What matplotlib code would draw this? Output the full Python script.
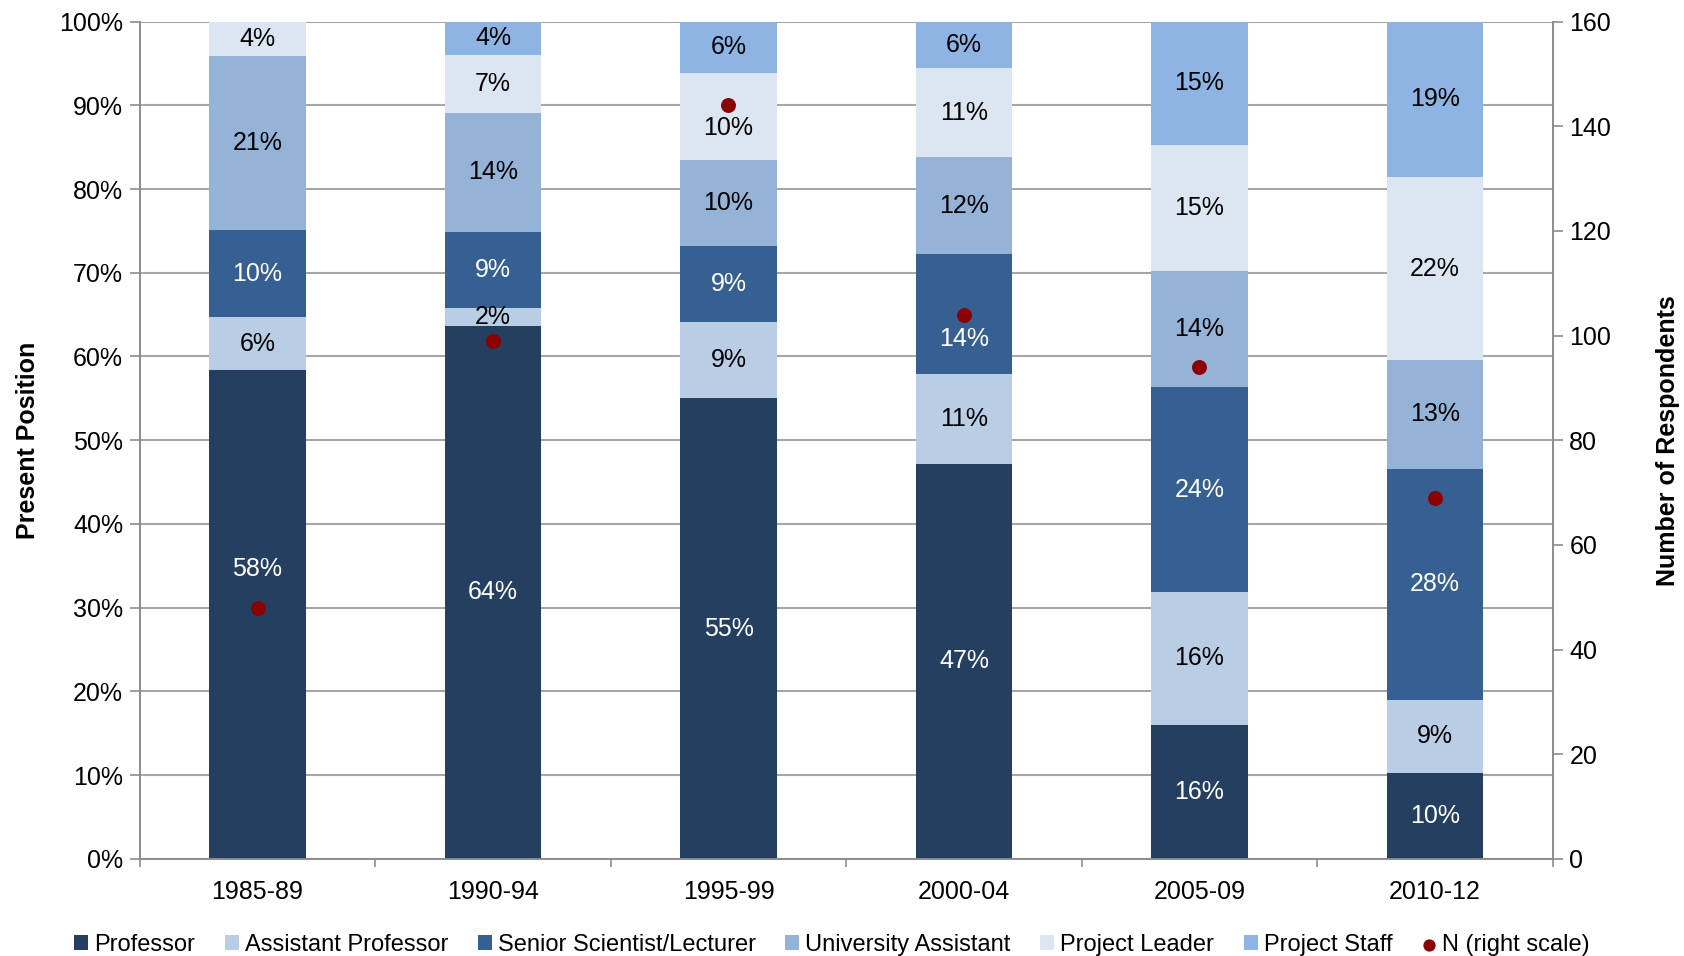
import matplotlib
matplotlib.use('Agg')
import matplotlib.pyplot as plt
import numpy as np

# data (percent of each cohort)
periods = ['1985-89', '1990-94', '1995-99', '2000-04', '2005-09', '2010-12']
professor = [58.4, 63.7, 55.0, 47.2, 16.0, 10.3]
asst_prof = [6.3, 2.1, 9.1, 10.7, 15.9, 8.7]
senior = [10.4, 9.1, 9.1, 14.3, 24.4, 27.6]
univ_asst = [20.8, 14.2, 10.3, 11.6, 13.9, 13.0]
proj_leader = [4.1, 6.9, 10.3, 10.6, 15.1, 21.8]
proj_staff = [0.0, 4.0, 6.2, 5.6, 14.7, 18.6]
n_resp = [48, 99, 144, 104, 94, 69]

series = [
    ('Professor', professor, '#243F60', 'white'),
    ('Assistant Professor', asst_prof, '#B9CDE5', 'black'),
    ('Senior Scientist/Lecturer', senior, '#376092', 'white'),
    ('University Assistant', univ_asst, '#95B3D7', 'black'),
    ('Project Leader', proj_leader, '#DCE6F2', 'black'),
    ('Project Staff', proj_staff, '#8EB4E3', 'black'),
]

# labels moved off the N dots (in % units)
label_nudge = {(0, 'Professor'): 5.4, (2, 'Project Leader'): -1.4,
               (3, 'Senior Scientist/Lecturer'): -3.0}

plt.rcParams['font.family'] = ['Liberation Sans', 'DejaVu Sans']

fig = plt.figure(figsize=(16.84, 9.56), dpi=100)
ax1 = fig.add_axes([0.083, 0.1015, 0.839, 0.876])
ax2 = ax1.twinx()

x = np.arange(len(periods))
width = 0.41
bottom = np.zeros(len(periods))
handles = []
for name, vals, col, tcol in series:
    vals = np.array(vals)
    b = ax1.bar(x, vals, width, bottom=bottom, color=col, label=name, zorder=2)
    handles.append(b)
    for i, v in enumerate(vals):
        if v > 0:
            ypos = bottom[i] + v / 2 + label_nudge.get((i, name), 0)
            ax1.text(x[i], ypos, '{:.0f}%'.format(v), ha='center', va='center',
                     fontsize=18, color=tcol, zorder=3)
    bottom += vals

dots = ax2.scatter(x, n_resp, s=95, color='#8B0000', zorder=4, label='N (right scale)')

ax1.set_xlim(-0.5, len(periods) - 0.5)
ax1.set_ylim(0, 100)
ax2.set_ylim(0, 160)
ax1.set_yticks(np.arange(0, 101, 10))
ax1.set_yticklabels(['{}%'.format(v) for v in range(0, 101, 10)])
ax2.set_yticks(np.arange(0, 161, 20))

ax1.yaxis.grid(True, color='#A6A6A6', linewidth=1.5, zorder=0)
ax1.set_axisbelow(True)

ax1.set_xticks(x)
ax1.set_xticklabels(periods)
ax1.set_xticks(np.arange(-0.5, len(periods), 1), minor=True)
ax1.tick_params(axis='x', which='major', length=0, labelsize=18, pad=15)
ax1.tick_params(axis='x', which='minor', length=6, color='#8C8C8C', width=1.2)
ax1.tick_params(axis='y', labelsize=18, length=7, color='#8C8C8C', width=1.2, pad=5)
ax2.tick_params(axis='y', labelsize=18, length=7, color='#8C8C8C', width=1.2, pad=5)

for a in (ax1, ax2):
    a.spines['top'].set_visible(False)
    for s in ('left', 'right', 'bottom'):
        a.spines[s].set_color('#8C8C8C')
        a.spines[s].set_linewidth(1.2)

ax1.set_ylabel('Present Position', fontsize=18, fontweight='bold', labelpad=14)
ax2.set_ylabel('Number of Respondents', fontsize=18, fontweight='bold', labelpad=32)

fig.legend(handles + [dots], [h.get_label() for h in handles] + ['N (right scale)'],
           loc='lower center', bbox_to_anchor=(0.494, -0.022), ncol=7, frameon=False,
           fontsize=17, handlelength=0.6, handleheight=0.6, handletextpad=0.25,
           columnspacing=1.25, markerscale=0.8)

plt.savefig('out.png', dpi=100)
